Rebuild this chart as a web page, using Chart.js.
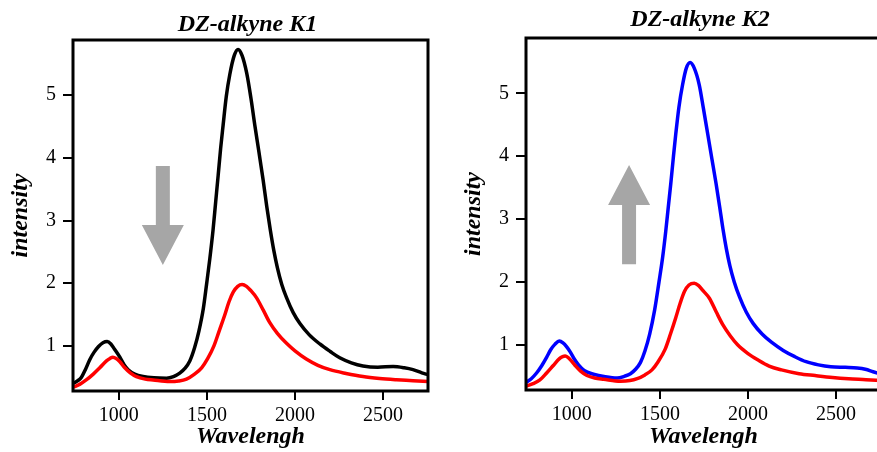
<!DOCTYPE html>
<html>
<head>
<meta charset="utf-8">
<script src="https://cdn.jsdelivr.net/npm/chart.js@4"></script>
<style>
  html, body { margin: 0; padding: 0; background: #fff; overflow: hidden; }
  body { width: 877px; height: 452px; position: relative; }
  .panel { position: absolute; top: 0; width: 440px; height: 452px; }
</style>
</head>
<body>
<div class="panel" style="left:0"><canvas id="k1Chart"></canvas></div>
<div class="panel" style="left:453px"><canvas id="k2Chart"></canvas></div>
<script>
// axis ticks
const xTicks = [1000, 1500, 2000, 2500];
const yTicks = [1, 2, 3, 4, 5];

// K1 - black (before) and red (after)
const k1BlackWave = [740, 765, 788, 810, 835, 860, 885, 910, 934, 955, 975, 1006, 1030, 1053, 1090, 1138, 1200, 1271, 1310, 1346, 1375, 1403, 1430, 1455, 1480, 1498, 1517, 1535, 1550, 1564, 1578, 1592, 1610, 1630, 1655, 1677, 1700, 1726, 1750, 1772, 1796, 1819, 1840, 1860, 1880, 1900, 1925, 1952, 1990, 2027, 2080, 2141, 2200, 2254, 2320, 2386, 2470, 2557, 2620, 2670, 2720, 2755];
const k1BlackInt  = [0.40, 0.44, 0.50, 0.62, 0.78, 0.90, 0.99, 1.05, 1.07, 1.03, 0.95, 0.82, 0.70, 0.62, 0.55, 0.51, 0.49, 0.485, 0.51, 0.565, 0.64, 0.76, 0.97, 1.24, 1.60, 1.98, 2.40, 2.85, 3.30, 3.72, 4.15, 4.52, 4.98, 5.33, 5.63, 5.73, 5.63, 5.35, 4.95, 4.52, 4.08, 3.65, 3.22, 2.85, 2.52, 2.25, 1.98, 1.77, 1.53, 1.36, 1.18, 1.03, 0.91, 0.81, 0.73, 0.68, 0.66, 0.67, 0.65, 0.62, 0.57, 0.54];
const k1RedWave = [740, 780, 817, 855, 892, 930, 950, 966, 985, 1005, 1034, 1065, 1100, 1150, 1195, 1289, 1340, 1384, 1430, 1470, 1505, 1540, 1570, 1600, 1625, 1650, 1675, 1700, 1725, 1750, 1781, 1820, 1857, 1900, 1952, 2000, 2064, 2130, 2198, 2290, 2386, 2480, 2576, 2670, 2755];
const k1RedInt  = [0.34, 0.39, 0.46, 0.55, 0.65, 0.76, 0.80, 0.82, 0.80, 0.75, 0.65, 0.57, 0.51, 0.47, 0.455, 0.43, 0.44, 0.47, 0.55, 0.65, 0.80, 1.00, 1.24, 1.48, 1.70, 1.86, 1.95, 1.98, 1.95, 1.88, 1.77, 1.57, 1.37, 1.20, 1.04, 0.92, 0.79, 0.69, 0.62, 0.56, 0.51, 0.48, 0.46, 0.445, 0.43];

// K2 - blue (after) and red (before)
const k2BlueWave = [740, 770, 800, 830, 857, 880, 905, 929, 950, 970, 990, 1015, 1038, 1070, 1123, 1190, 1257, 1300, 1333, 1362, 1390, 1415, 1442, 1470, 1495, 1515, 1533, 1548, 1562, 1576, 1590, 1608, 1629, 1650, 1672, 1695, 1723, 1747, 1771, 1795, 1819, 1840, 1858, 1877, 1897, 1922, 1952, 1990, 2029, 2080, 2133, 2200, 2266, 2330, 2400, 2470, 2552, 2620, 2666, 2710, 2755];
const k2BlueInt  = [0.40, 0.46, 0.55, 0.67, 0.80, 0.92, 1.01, 1.06, 1.03, 0.97, 0.89, 0.77, 0.68, 0.59, 0.53, 0.49, 0.47, 0.50, 0.54, 0.61, 0.72, 0.90, 1.17, 1.55, 2.00, 2.38, 2.80, 3.20, 3.57, 3.97, 4.35, 4.78, 5.14, 5.40, 5.49, 5.40, 5.14, 4.76, 4.36, 3.96, 3.56, 3.18, 2.84, 2.53, 2.26, 2.00, 1.76, 1.52, 1.34, 1.17, 1.04, 0.91, 0.81, 0.73, 0.68, 0.65, 0.64, 0.63, 0.61, 0.57, 0.53];
const k2RedWave = [740, 780, 819, 857, 895, 930, 948, 962, 978, 995, 1019, 1050, 1086, 1130, 1181, 1276, 1330, 1371, 1415, 1455, 1490, 1530, 1560, 1590, 1615, 1640, 1665, 1695, 1720, 1745, 1781, 1820, 1857, 1900, 1941, 2000, 2055, 2120, 2190, 2290, 2381, 2480, 2571, 2670, 2755];
const k2RedInt  = [0.34, 0.38, 0.44, 0.55, 0.67, 0.78, 0.81, 0.82, 0.80, 0.75, 0.67, 0.58, 0.51, 0.47, 0.45, 0.42, 0.43, 0.46, 0.52, 0.60, 0.73, 0.93, 1.17, 1.43, 1.66, 1.85, 1.95, 1.98, 1.94, 1.86, 1.74, 1.52, 1.32, 1.14, 1.00, 0.86, 0.76, 0.66, 0.60, 0.54, 0.51, 0.48, 0.46, 0.445, 0.43];

function toPoints(xs, ys) {
    return xs.map((x, i) => ({x: x, y: ys[i]}));
}

const serif = "'Liberation Serif', 'Times New Roman', serif";

// frame around the plot area
const frameBox = {
    id: 'frameBox',
    afterDatasetsDraw(chart) {
        const a = chart.chartArea, ctx = chart.ctx;
        ctx.save();
        ctx.strokeStyle = '#000';
        ctx.lineWidth = 3;
        ctx.strokeRect(a.left, a.top, a.right - a.left, a.bottom - a.top);
        ctx.restore();
    }
};

// panel title above the frame
const panelTitle = {
    id: 'panelTitle',
    afterDraw(chart, args, opts) {
        const a = chart.chartArea, ctx = chart.ctx;
        ctx.save();
        ctx.font = 'italic bold 24px ' + serif;
        ctx.fillStyle = '#000';
        ctx.textAlign = 'center';
        ctx.textBaseline = 'middle';
        ctx.fillText(opts.text, (a.left + a.right) / 2 + opts.dx, opts.y);
        ctx.restore();
    }
};

// grey arrow, given in data coordinates (tail -> tip)
const bigArrow = {
    id: 'bigArrow',
    afterDatasetsDraw(chart, args, opts) {
        const xs = chart.scales.x, ys = chart.scales.y, ctx = chart.ctx;
        const cx = xs.getPixelForValue(opts.x);
        const y0 = ys.getPixelForValue(opts.from);
        const y1 = ys.getPixelForValue(opts.to);
        const dir = y1 > y0 ? 1 : -1;
        const base = y1 - dir * 40;
        ctx.save();
        ctx.fillStyle = '#a6a6a6';
        ctx.beginPath();
        ctx.moveTo(cx - 7, y0);
        ctx.lineTo(cx + 7, y0);
        ctx.lineTo(cx + 7, base);
        ctx.lineTo(cx + 21, base);
        ctx.lineTo(cx, y1);
        ctx.lineTo(cx - 21, base);
        ctx.lineTo(cx - 7, base);
        ctx.closePath();
        ctx.fill();
        ctx.restore();
    }
};

function lineSet(data, color) {
    return {
        data: data,
        showLine: true,
        borderColor: color,
        borderWidth: 3.5,
        pointRadius: 0,
        fill: false,
        cubicInterpolationMode: 'monotone'
    };
}

function makeConfig(sets, title, arrow, padTop, xHeight) {
    return {
        type: 'scatter',
        data: { datasets: sets.map(s => lineSet(s.data, s.color)) },
        options: {
            responsive: false,
            animation: false,
            events: [],
            layout: { padding: { top: padTop, right: 12, left: 0, bottom: 0 } },
            plugins: {
                legend: { display: false },
                tooltip: { enabled: false },
                panelTitle: title,
                bigArrow: arrow
            },
            scales: {
                x: {
                    type: 'linear',
                    min: 740,
                    max: 2755,
                    afterBuildTicks: s => { s.ticks = xTicks.map(v => ({value: v})); },
                    afterFit: s => { s.height = xHeight; },
                    grid: { drawOnChartArea: false, drawTicks: true, tickLength: 9, color: '#000', lineWidth: 2 },
                    border: { display: false },
                    ticks: { color: '#000', font: { family: serif, size: 20 }, padding: 4, maxRotation: 0, callback: v => String(v) },
                    title: {
                        display: true,
                        text: 'Wavelengh',
                        color: '#000',
                        font: { family: serif, size: 24, style: 'italic', weight: 'bold' },
                        padding: { top: 0, bottom: 1 }
                    }
                },
                y: {
                    type: 'linear',
                    min: 0.28,
                    max: 5.88,
                    afterBuildTicks: s => { s.ticks = yTicks.map(v => ({value: v})); },
                    afterFit: s => { s.width = 73; },
                    grid: { drawOnChartArea: false, drawTicks: true, tickLength: 10, color: '#000', lineWidth: 2 },
                    border: { display: false },
                    ticks: { color: '#000', font: { family: serif, size: 20 }, padding: 7, callback: v => String(v) },
                    title: {
                        display: true,
                        text: 'intensity',
                        color: '#000',
                        font: { family: serif, size: 24, style: 'italic', weight: 'bold' },
                        padding: { top: 6, bottom: 0 }
                    }
                }
            }
        },
        plugins: [frameBox, panelTitle, bigArrow]
    };
}

function setupCanvas(id) {
    const c = document.getElementById(id);
    c.width = 440;
    c.height = 452;
    c.style.width = '440px';
    c.style.height = '452px';
    return c;
}

new Chart(setupCanvas('k1Chart'), makeConfig(
    [
        { data: toPoints(k1RedWave, k1RedInt), color: '#ff0000' },
        { data: toPoints(k1BlackWave, k1BlackInt), color: '#000000' }
    ],
    { text: 'DZ-alkyne K1', dx: -3, y: 25 },
    { x: 1250, from: 3.87, to: 2.29 },
    40, 61
));

new Chart(setupCanvas('k2Chart'), makeConfig(
    [
        { data: toPoints(k2RedWave, k2RedInt), color: '#ff0000' },
        { data: toPoints(k2BlueWave, k2BlueInt), color: '#0000ff' }
    ],
    { text: 'DZ-alkyne K2', dx: -3.5, y: 20 },
    { x: 1325, from: 2.28, to: 3.86 },
    38, 62
));
</script>
</body>
</html>
